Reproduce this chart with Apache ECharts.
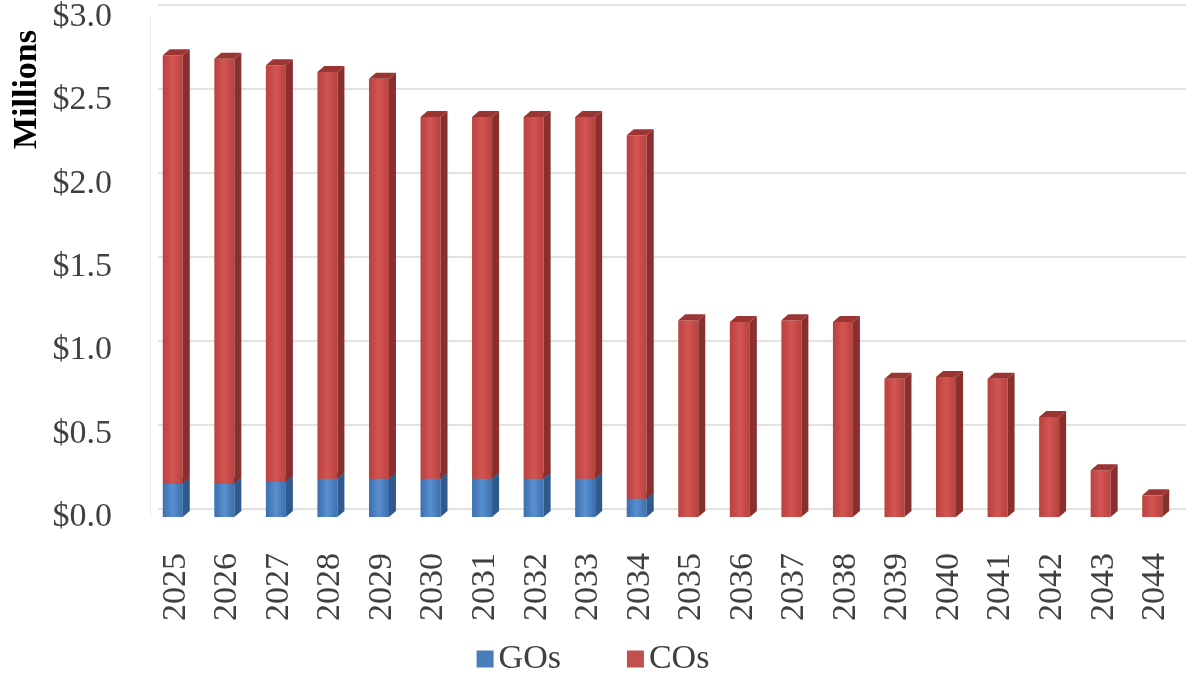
<!DOCTYPE html>
<html>
<head>
<meta charset="utf-8">
<script src="https://cdn.jsdelivr.net/npm/echarts@6/dist/echarts.min.js"></script>
<style>
  html, body { margin: 0; padding: 0; background: #fff; }
  #chart { width: 1186px; height: 681px; }
</style>
</head>
<body>
<div id="chart"></div>
<script>
const years = ['2025', '2026', '2027', '2028', '2029', '2030', '2031', '2032', '2033', '2034',
  '2035', '2036', '2037', '2038', '2039', '2040', '2041', '2042', '2043', '2044'];
// $ millions
const gos = [0.20, 0.20, 0.21, 0.23, 0.23, 0.23, 0.23, 0.23, 0.23, 0.11,
  0, 0, 0, 0, 0, 0, 0, 0, 0, 0];
const cos = [2.57, 2.55, 2.50, 2.44, 2.40, 2.17, 2.17, 2.17, 2.17, 2.18,
  1.18, 1.17, 1.18, 1.17, 0.83, 0.84, 0.83, 0.60, 0.28, 0.13];

const FONT = "'Liberation Serif', 'DejaVu Serif', serif";
const FRONT_W = 20, DX = 7, DY = 6; // 3d box look

const colors = {
  GOs: { front: ['#3b6fae', '#5a8fd0'], side: '#2f5a8e', top: '#2a5282' },
  COs: { front: ['#b9413e', '#d25552'], side: '#8a2f2d', top: '#9a3533' },
};

// stacked boxes: [index, base, top]
const goBoxes = gos.map((v, i) => [i, 0, v]);
const coBoxes = cos.map((v, i) => [i, gos[i], gos[i] + v]);

function boxRenderer(c) {
  return function (params, api) {
    const base = api.value(1), top = api.value(2);
    if (top - base <= 0) return null;
    const p0 = api.coord([api.value(0), base]);
    const p1 = api.coord([api.value(0), top]);
    const x = p0[0] - 13;
    const yb = p0[1], yt = p1[1];
    return {
      type: 'group',
      children: [
        {
          type: 'rect',
          shape: { x: x, y: yt, width: FRONT_W, height: yb - yt },
          style: {
            fill: new echarts.graphic.LinearGradient(0, 0, 1, 0, [
              { offset: 0, color: c.front[0] },
              { offset: 0.5, color: c.front[1] },
              { offset: 1, color: c.front[0] },
            ]),
          },
        },
        {
          type: 'polygon',
          shape: { points: [[x + FRONT_W, yt], [x + FRONT_W + DX, yt - DY], [x + FRONT_W + DX, yb - DY], [x + FRONT_W, yb]] },
          style: { fill: c.side },
        },
        {
          type: 'polygon',
          shape: { points: [[x, yt], [x + DX, yt - DY], [x + FRONT_W + DX, yt - DY], [x + FRONT_W, yt]] },
          style: { fill: c.top },
        },
      ],
    };
  };
}

const chart = echarts.init(document.getElementById('chart'));
chart.setOption({
  backgroundColor: '#fff',
  animation: false,
  grid: [
    { left: 150, right: 5, top: 13, bottom: 164 },
    // back wall (gridlines sit behind the bars)
    { left: 158, right: -3, top: 5, bottom: 172 },
  ],
  xAxis: [
    {
      type: 'category',
      data: years,
      gridIndex: 0,
      axisLine: { show: false },
      axisTick: { show: false },
      axisLabel: {
        rotate: 90,
        margin: 36,
        fontFamily: FONT,
        fontSize: 34,
        color: '#404040',
      },
    },
    { type: 'category', data: years, gridIndex: 1, show: false },
  ],
  yAxis: [
    {
      type: 'value',
      gridIndex: 0,
      min: 0,
      max: 3,
      interval: 0.5,
      splitLine: { show: false },
      axisLine: { show: true, lineStyle: { color: '#ececec' } },
      axisTick: { show: false },
      axisLabel: {
        margin: 38,
        padding: [14, 0, 0, 0],
        fontFamily: FONT,
        fontSize: 34,
        color: '#404040',
        formatter: (v) => '$' + v.toFixed(1),
      },
    },
    {
      type: 'value',
      gridIndex: 1,
      min: 0,
      max: 3,
      interval: 0.5,
      axisLabel: { show: false },
      axisLine: { show: false },
      axisTick: { show: false },
      splitLine: { lineStyle: { color: '#d9d9d9', width: 1.5 } },
    },
  ],
  legend: {
    bottom: 0,
    left: 'center',
    itemGap: 66,
    itemWidth: 17,
    itemHeight: 17,
    icon: 'rect',
    textStyle: { fontFamily: FONT, fontSize: 34, color: '#404040' },
    data: ['GOs', 'COs'],
  },
  graphic: [
    {
      type: 'text',
      left: 10,
      top: 30,
      rotation: Math.PI / 2,
      style: {
        text: 'Millions',
        font: 'bold 34px ' + FONT,
        fill: '#000',
      },
    },
  ],
  series: [
    {
      name: 'GOs',
      type: 'custom',
      xAxisIndex: 0,
      yAxisIndex: 0,
      itemStyle: { color: '#4a7ebb' },
      renderItem: boxRenderer(colors.GOs),
      encode: { x: 0, y: [1, 2] },
      data: goBoxes,
    },
    {
      name: 'COs',
      type: 'custom',
      xAxisIndex: 0,
      yAxisIndex: 0,
      itemStyle: { color: '#c0504d' },
      renderItem: boxRenderer(colors.COs),
      encode: { x: 0, y: [1, 2] },
      data: coBoxes,
    },
  ],
});
</script>
</body>
</html>
